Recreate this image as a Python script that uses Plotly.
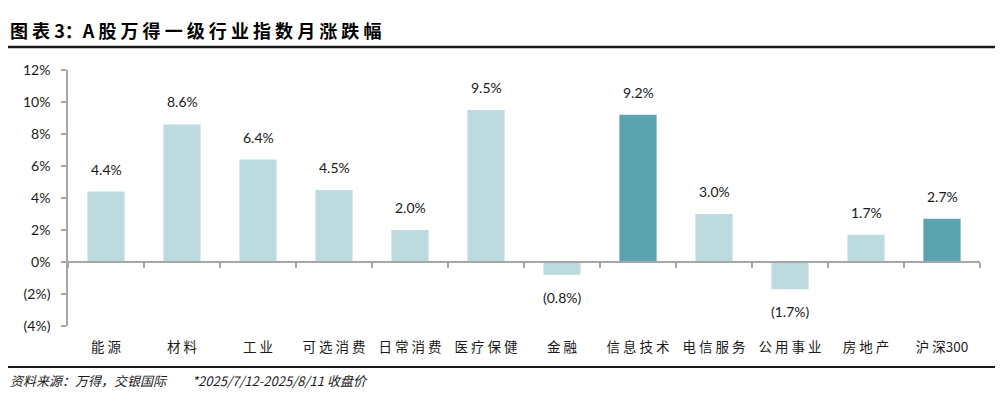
import plotly.graph_objects as go

categories = ["能源", "材料", "工业", "可选消费", "日常消费", "医疗保健", "金融",
              "信息技术", "电信服务", "公用事业", "房地产", "沪深300"]
values = [4.4, 8.6, 6.4, 4.5, 2.0, 9.5, -0.8, 9.2, 3.0, -1.7, 1.7, 2.7]
highlight = [False, False, False, False, False, False, False, True, False, False, False, True]
y_tickvals = [-4, -2, 0, 2, 4, 6, 8, 10, 12]
y_ticktext = ["(4%)", "(2%)", "0%", "2%", "4%", "6%", "8%", "10%", "12%"]

LIGHT = "#BDDBDF"
DARK = "#5BA3AE"
AXIS = "#A6A6A6"
FONT = "Lato, 'Noto Sans CJK SC', sans-serif"
CJK = "'Noto Sans CJK SC', Lato, sans-serif"


def fmt(v):
    return f"({abs(v):.1f}%)" if v < 0 else f"{v:.1f}%"


def spaced(s):
    # mimic the wide character spacing of the reference's CJK font (CJK-to-CJK only)
    out = ""
    for i, ch in enumerate(s):
        out += ch
        if i < len(s) - 1 and not ch.isascii() and not s[i + 1].isascii():
            out += " "
    return out


fig = go.Figure()
fig.add_trace(go.Bar(
    x=categories, y=values,
    marker=dict(color=[DARK if h else LIGHT for h in highlight], line=dict(width=0)),
    width=0.49, xaxis="x", yaxis="y", hoverinfo="x+y",
))
# invisible trace to carry the zero-line axis with boundary ticks
fig.add_trace(go.Scatter(
    x=categories, y=[0] * len(categories), mode="markers",
    marker=dict(opacity=0), xaxis="x2", yaxis="y", hoverinfo="skip", showlegend=False,
))

for c, v in zip(categories, values):
    fig.add_annotation(
        x=c, y=v, text=fmt(v), showarrow=False, xref="x", yref="y",
        yanchor="bottom" if v >= 0 else "top",
        yshift=12 if v >= 0 else -12,
        font=dict(family=FONT, size=14, color="#1a1a1a"),
    )

ymin, ymax = -4, 12
L, T, R, B = 60, 62, 31, 84
PW, PH = 1003 - L - R, 402 - T - B

fig.update_layout(
    width=1003, height=402,
    margin=dict(l=L, r=R, t=T, b=B, autoexpand=False),
    plot_bgcolor="white", paper_bgcolor="white",
    showlegend=False, bargap=0.5,
    xaxis=dict(
        type="category", categoryorder="array", categoryarray=categories,
        tickvals=categories, ticktext=[spaced(c) for c in categories],
        range=[-0.5, 11.5], showline=False, ticks="", showgrid=False,
        tickfont=dict(family=CJK, size=13.5, color="#1a1a1a"),
        ticklabelstandoff=11,
    ),
    xaxis2=dict(
        type="category", categoryorder="array", categoryarray=categories,
        range=[-0.5, 11.5], overlaying="x", anchor="free",
        position=(0 - ymin) / (ymax - ymin),
        showline=True, linecolor=AXIS, linewidth=1.5,
        ticks="outside", tickson="boundaries", ticklen=5, tickcolor=AXIS, tickwidth=1.5,
        showticklabels=False, showgrid=False, side="bottom",
    ),
    yaxis=dict(
        range=[ymin, ymax], tickvals=y_tickvals, ticktext=y_ticktext,
        showline=True, linecolor=AXIS, linewidth=1.5,
        ticks="outside", ticklen=5, tickcolor=AXIS, tickwidth=1.5,
        showgrid=False, zeroline=False,
        tickfont=dict(family=FONT, size=14, color="#1a1a1a"),
        ticklabelstandoff=8,
    ),
)

# title
fig.add_annotation(
    xref="paper", yref="paper", x=-L / PW, y=1 + 40 / PH,
    text="<b>" + spaced("图表") + " 3：A " + spaced("股万得一级行业指数月涨跌幅") + "</b>",
    showarrow=False, xanchor="left", yanchor="middle",
    font=dict(family=CJK, size=18, color="#000"),
)
# header and footer rules
fig.add_shape(type="line", xref="paper", yref="paper", x0=-L / PW, x1=(1003 - L) / PW,
              y0=1 + 23 / PH, y1=1 + 23 / PH, line=dict(color="#1a1a1a", width=2.5))
fig.add_shape(type="line", xref="paper", yref="paper", x0=-L / PW, x1=(1003 - L) / PW,
              y0=-41 / PH, y1=-41 / PH, line=dict(color="#1a1a1a", width=2))
# footer text
fig.add_annotation(
    xref="paper", yref="paper", x=-L / PW, y=-54 / PH,
    text="<i>资料来源：万得，交银国际　　*2025/7/12-2025/8/11 收盘价</i>", showarrow=False,
    xanchor="left", yanchor="middle", font=dict(family=CJK, size=13, color="#1a1a1a"),
)

fig.write_html("out.html")
